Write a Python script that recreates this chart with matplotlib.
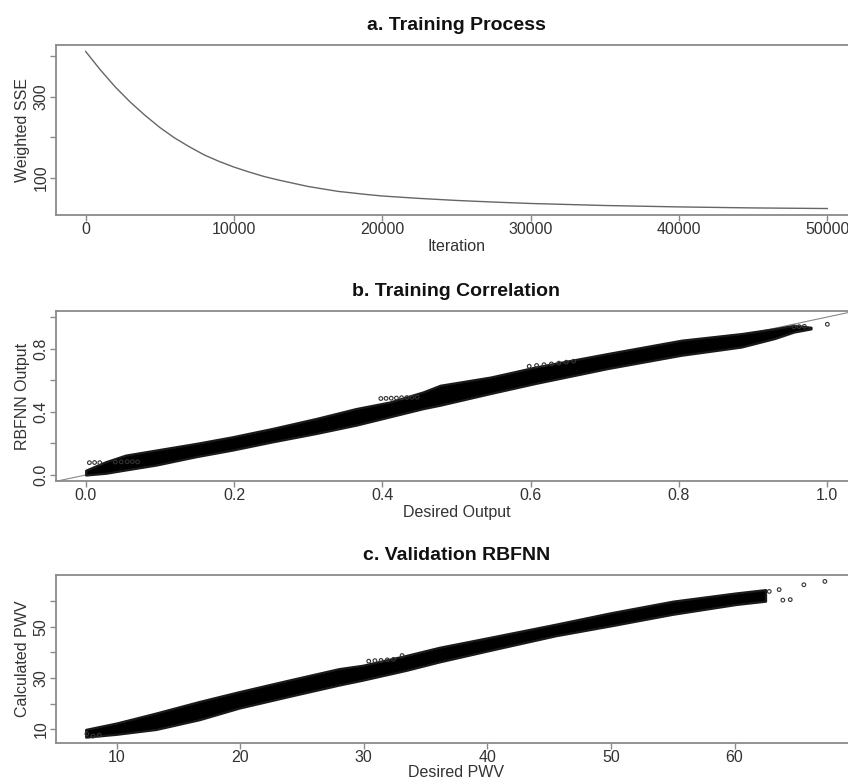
import matplotlib
matplotlib.use("Agg")
import matplotlib.pyplot as plt

plt.rcParams['font.family'] = ['Liberation Sans', 'DejaVu Sans']

# ---------------- Panel a: training process ----------------
iterations = [0, 1000, 2000, 3000, 4000, 5000, 6000, 7000, 8000, 9000, 10000,
              11000, 12000, 13000, 14000, 15000, 16000, 17000, 18000, 19000,
              20000, 22500, 25000, 27500, 30000, 35000, 40000, 45000, 50000]
weighted_sse = [412, 366, 324, 287, 254, 224, 198, 176, 156, 140, 126,
                114, 103, 94, 86, 78, 72, 66, 62, 58,
                54.5, 48.5, 43.5, 39.5, 36, 31, 27.5, 25, 23.5]

# ---------------- Panel b: training correlation (band of points) ----------------
b_desired = [0.000, 0.027, 0.054, 0.095, 0.149, 0.198, 0.252, 0.311, 0.365,
             0.410, 0.455, 0.478, 0.546, 0.607, 0.704, 0.803, 0.884, 0.929,
             0.955, 0.978]
b_lower = [0.000, 0.011, 0.032, 0.063, 0.116, 0.158, 0.210, 0.263, 0.316,
           0.368, 0.420, 0.442, 0.516, 0.580, 0.674, 0.758, 0.810, 0.864,
           0.905, 0.925]
b_upper = [0.030, 0.084, 0.126, 0.158, 0.200, 0.242, 0.295, 0.358, 0.421,
           0.462, 0.526, 0.568, 0.620, 0.684, 0.769, 0.853, 0.895, 0.926,
           0.947, 0.935]
b_out_x = [0.005, 0.012, 0.019, 0.040, 0.048, 0.056, 0.063, 0.070,
           0.398, 0.405, 0.412, 0.419, 0.426, 0.433, 0.440, 0.447,
           0.598, 0.608, 0.618, 0.628, 0.638, 0.648, 0.658,
           0.955, 0.962, 0.969, 1.000]
b_out_y = [0.078, 0.079, 0.078, 0.082, 0.083, 0.084, 0.085, 0.083,
           0.484, 0.485, 0.486, 0.487, 0.489, 0.490, 0.491, 0.492,
           0.688, 0.693, 0.698, 0.703, 0.708, 0.714, 0.720,
           0.937, 0.939, 0.941, 0.954]

# ---------------- Panel c: validation (band of points) ----------------
c_desired = [7.5, 10.0, 13.2, 16.7, 19.9, 23.9, 28.0, 29.9, 33.4, 36.1, 40.2,
             45.5, 50.0, 55.0, 60.1, 62.5]
c_lower = [7.0, 8.1, 10.0, 13.8, 18.3, 22.8, 27.3, 29.2, 33.0, 36.3, 40.8,
           46.5, 50.4, 54.9, 58.7, 60.0]
c_upper = [10.0, 12.5, 16.4, 20.9, 24.7, 29.2, 33.7, 35.0, 38.8, 42.0, 45.9,
           51.0, 55.5, 60.0, 63.2, 64.5]
c_out_x = [7.6, 8.1, 8.6, 30.4, 30.9, 31.4, 31.9, 32.4, 33.1,
           62.8, 63.6, 63.9, 64.5, 65.6, 67.3]
c_out_y = [8.3, 7.4, 7.8, 36.6, 36.8, 36.9, 37.1, 37.3, 38.8,
           63.8, 64.5, 60.4, 60.6, 66.4, 67.7]

TICK_C = '#333333'
SPINE_C = '#8a8a8a'

W, H = 848, 784
fig = plt.figure(figsize=(W / 100, H / 100), dpi=100)

def add_axes(top_px, bottom_px):
    left, right = 56, 857
    return fig.add_axes([left / W, 1 - bottom_px / H, (right - left) / W,
                         (bottom_px - top_px) / H])

def style(ax, title, xlabel, ylabel, xlabelpad=1.5):
    for s in ax.spines.values():
        s.set_color(SPINE_C)
        s.set_linewidth(1.3)
    ax.tick_params(axis='both', direction='out', length=4.5, width=1.0,
                   color=SPINE_C, labelcolor=TICK_C, labelsize=11.5, pad=0.5)
    ax.tick_params(axis='y', labelrotation=90, pad=1)
    for lab in ax.get_yticklabels():
        lab.set_va('center')
    ax.set_title(title, fontsize=14, fontweight='bold', color='#111111', pad=11)
    ax.set_xlabel(xlabel, fontsize=11.5, color=TICK_C, labelpad=xlabelpad)
    ax.set_ylabel(ylabel, fontsize=11.5, color=TICK_C, labelpad=2.2)

# Panel a
ax1 = add_axes(45, 215)
ax1.plot(iterations, weighted_sse, color='#666666', lw=1.0)
ax1.set_xlim(-2000, 52000)
ax1.set_ylim(7.5, 428)
ax1.set_xticks([0, 10000, 20000, 30000, 40000, 50000])
ax1.set_xticklabels(['0', '10000', '20000', '30000', '40000', '50000'])
ax1.set_yticks([100, 200, 300, 400])
ax1.set_yticklabels(['100', '', '300', ''])
style(ax1, 'a. Training Process', 'Iteration', 'Weighted SSE')

# Panel b
ax2 = add_axes(311, 481)
ax2.plot([-0.04, 1.04], [-0.04, 1.04], color='#888888', lw=0.8, zorder=1)
ax2.fill_between(b_desired, b_lower, b_upper, color='black', lw=1.6,
                 edgecolor='#1a1a1a', zorder=2)
ax2.scatter(b_out_x, b_out_y, s=7, facecolors='none', edgecolors='#333333',
            linewidths=0.8, zorder=3)
ax2.set_xlim(-0.04, 1.04)
ax2.set_ylim(-0.038, 1.038)
ax2.set_xticks([0.0, 0.2, 0.4, 0.6, 0.8, 1.0])
ax2.set_xticklabels(['0.0', '0.2', '0.4', '0.6', '0.8', '1.0'])
ax2.set_yticks([0.0, 0.2, 0.4, 0.6, 0.8, 1.0])
ax2.set_yticklabels(['0.0', '', '0.4', '', '0.8', ''])
style(ax2, 'b. Training Correlation', 'Desired Output', 'RBFNN Output')

# Panel c
ax3 = add_axes(575, 743)
ax3.fill_between(c_desired, c_lower, c_upper, color='black', lw=1.6,
                 edgecolor='#1a1a1a', zorder=2)
ax3.scatter(c_out_x, c_out_y, s=7, facecolors='none', edgecolors='#333333',
            linewidths=0.8, zorder=3)
ax3.set_xlim(5.1, 69.9)
ax3.set_ylim(4.7, 70.2)
ax3.set_xticks([10, 20, 30, 40, 50, 60])
ax3.set_xticklabels(['10', '20', '30', '40', '50', '60'])
ax3.set_yticks([10, 20, 30, 40, 50, 60])
ax3.set_yticklabels(['10', '', '30', '', '50', ''])
style(ax3, 'c. Validation RBFNN', 'Desired PWV', 'Calculated PWV', xlabelpad=0.3)

fig.savefig('out.png', dpi=100)
